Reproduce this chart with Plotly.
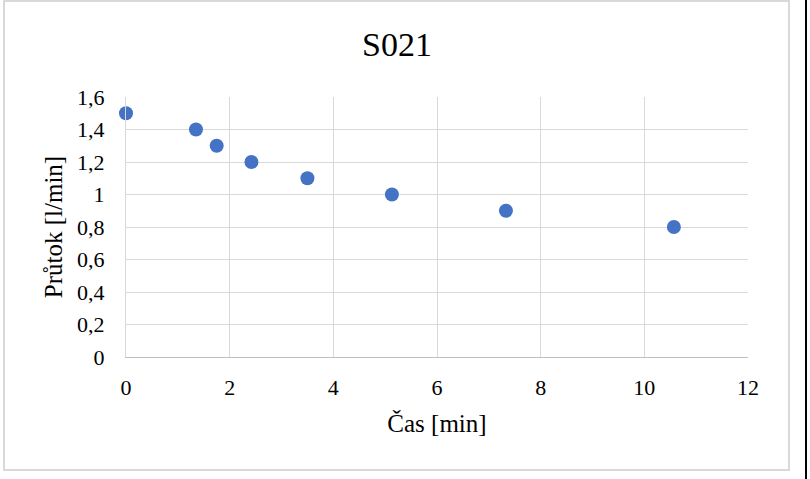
import plotly.graph_objects as go

# Data
cas_min = [0, 1.35, 1.75, 2.42, 3.5, 5.13, 7.33, 10.57]
prutok = [1.5, 1.4, 1.3, 1.2, 1.1, 1.0, 0.9, 0.8]

x_ticks = [0, 2, 4, 6, 8, 10, 12]
y_ticks = [0, 0.2, 0.4, 0.6, 0.8, 1, 1.2, 1.4, 1.6]
y_labels = ["0", "0,2", "0,4", "0,6", "0,8", "1", "1,2", "1,4", "1,6"]

W, H = 810, 479
L, R, T, B = 126, 62, 97, 122
pw, ph = W - L - R, H - T - B


def px(x):
    return (x - L) / pw


def py(y):
    return (H - B - y) / ph


serif = "Times New Roman"

fig = go.Figure()
fig.add_trace(go.Scatter(
    x=cas_min, y=prutok, mode="markers",
    marker=dict(color="#4472C4", size=14),
    cliponaxis=False, showlegend=False,
))

fig.update_layout(
    width=W, height=H,
    margin=dict(l=L, r=R, t=T, b=B),
    paper_bgcolor="white", plot_bgcolor="white",
    font=dict(family=serif, color="black", size=22),
    title=dict(text="S021", x=397 / W, xanchor="center",
               y=1 - 44 / H, yanchor="middle",
               font=dict(size=34, family=serif)),
    xaxis=dict(range=[0, 12], tickvals=x_ticks, showgrid=True,
               gridcolor="#d9d9d9", gridwidth=1, zeroline=False,
               showline=True, linecolor="#bfbfbf", linewidth=1,
               ticks="", ticklabelstandoff=11,
               tickfont=dict(family=serif, size=22),
               title=dict(text="Čas [min]", font=dict(size=25, family=serif),
                          standoff=15)),
    yaxis=dict(range=[0, 1.6], tickvals=y_ticks, ticktext=y_labels,
               showgrid=True, gridcolor="#d9d9d9", gridwidth=1,
               zeroline=False, showline=True, linecolor="#d9d9d9",
               linewidth=1, ticks="", ticklabelstandoff=16,
               tickfont=dict(family=serif, size=22),
               title=dict(text="Průtok [l/min]",
                          font=dict(size=25, family=serif), standoff=7)),
    shapes=[
        dict(type="rect", xref="paper", yref="paper",
             x0=px(4), x1=px(789), y0=py(470), y1=py(1),
             line=dict(color="#d9d9d9", width=2), layer="below"),
        dict(type="line", xref="paper", yref="paper",
             x0=px(806), x1=px(806), y0=py(479), y1=py(0),
             line=dict(color="black", width=2)),
    ],
)

fig.write_html("out.html", config={"displayModeBar": False},
               post_script="document.body.style.margin='0';")
